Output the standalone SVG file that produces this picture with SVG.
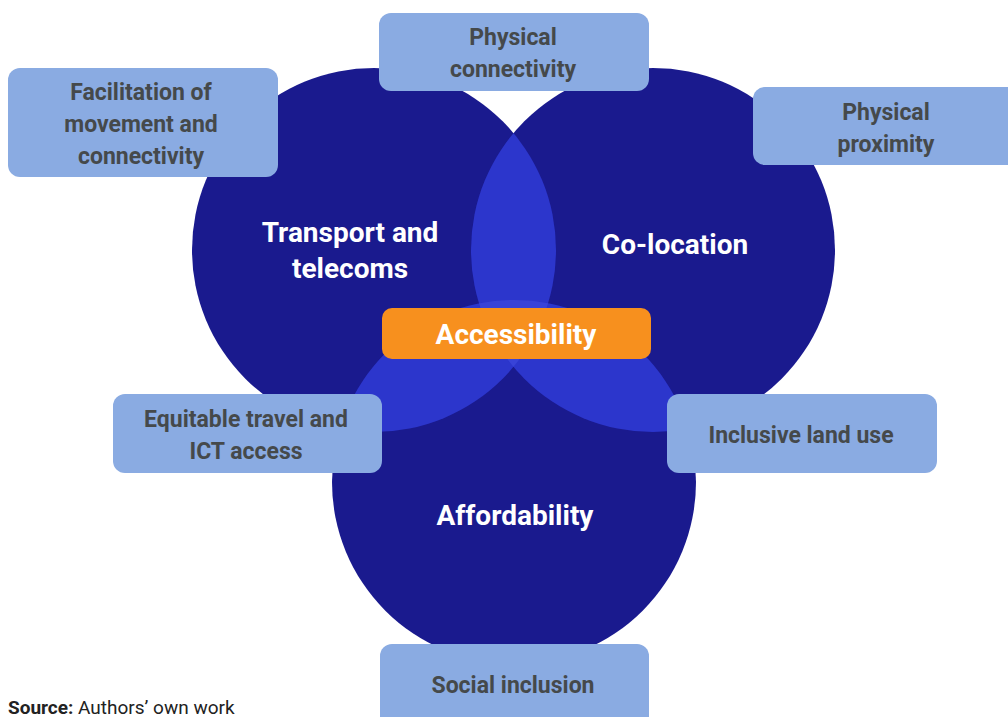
<svg xmlns="http://www.w3.org/2000/svg" width="1008" height="717" viewBox="0 0 1008 717">
<style>
.c{fill:#1a1a8e}
.o{fill:#2c36cc}
.t{fill:#3843d8}
.box{fill:#8aabe2}
.bl{font-family:Roboto,"Liberation Sans",sans-serif;font-weight:bold;font-size:23px;fill:#45494b;text-anchor:middle}
.cl{font-family:Roboto,"Liberation Sans",sans-serif;font-weight:bold;font-size:28px;fill:#ffffff;text-anchor:middle}
.src{font-family:Roboto,"Liberation Sans",sans-serif;font-size:19px;fill:#222}
</style>
<defs>
<clipPath id="clipL"><circle cx="374" cy="250" r="182"/></clipPath>
<clipPath id="clipR"><circle cx="653" cy="250" r="182"/></clipPath>
</defs>
<g id="circles">
<circle id="transport" class="c" cx="374" cy="250" r="182"/>
<circle id="colocation" class="c" cx="653" cy="250" r="182"/>
<circle id="affordability" class="c" cx="514" cy="482" r="182"/>
<circle class="o" cx="653" cy="250" r="182" clip-path="url(#clipL)"/>
<circle class="o" cx="514" cy="482" r="182" clip-path="url(#clipL)"/>
<circle class="o" cx="514" cy="482" r="182" clip-path="url(#clipR)"/>
<g clip-path="url(#clipL)"><circle class="t" cx="514" cy="482" r="182" clip-path="url(#clipR)"/></g>
<text class="cl" x="350" y="242">Transport and</text>
<text class="cl" x="350" y="278">telecoms</text>
<text class="cl" x="675" y="254">Co-location</text>
<text class="cl" x="515" y="525">Affordability</text>
</g>
<g id="connectors"></g>
<g id="n-facilitation"><rect class="box" x="8" y="68" width="270" height="109" rx="12"/>
<text class="bl" x="141" y="100">Facilitation of</text><text class="bl" x="141" y="132">movement and</text><text class="bl" x="141" y="164">connectivity</text></g>
<g id="n-physconn"><rect class="box" x="379" y="13" width="270" height="78" rx="12"/>
<text class="bl" x="513" y="45">Physical</text><text class="bl" x="513" y="77">connectivity</text></g>
<g id="n-physprox"><rect class="box" x="753" y="87" width="270" height="78" rx="12"/>
<text class="bl" x="886" y="120">Physical</text><text class="bl" x="886" y="152">proximity</text></g>
<g id="n-equitable"><rect class="box" x="113" y="394" width="269" height="79" rx="12"/>
<text class="bl" x="246" y="427">Equitable travel and</text><text class="bl" x="246" y="459">ICT access</text></g>
<g id="n-landuse"><rect class="box" x="667" y="394" width="270" height="79" rx="12"/>
<text class="bl" x="801" y="443">Inclusive land use</text></g>
<g id="n-social"><rect class="box" x="380" y="644" width="269" height="90" rx="12"/>
<text class="bl" x="513" y="693">Social inclusion</text></g>
<g id="n-accessibility"><rect x="382" y="308" width="269" height="51" rx="10" fill="#f7901e"/>
<text class="cl" x="516" y="344">Accessibility</text></g>
<text class="src" x="8" y="714"><tspan font-weight="bold">Source:</tspan> Authors’ own work</text>
</svg>
